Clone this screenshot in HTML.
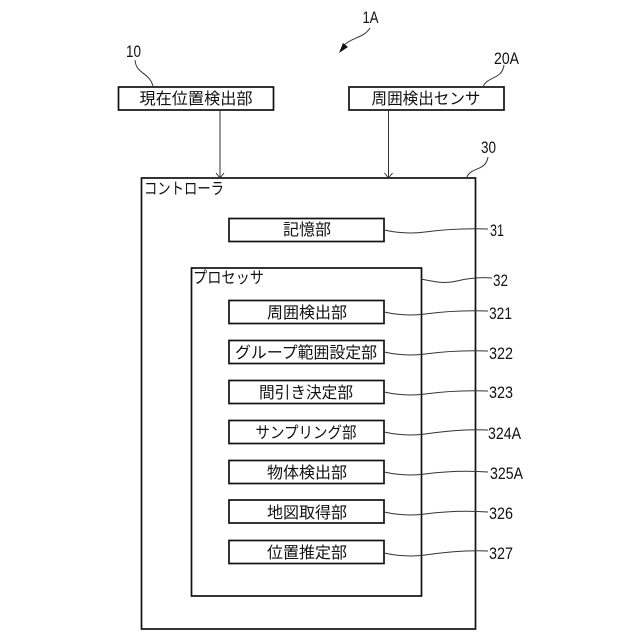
<!DOCTYPE html>
<html><head><meta charset="utf-8"><style>
html,body{margin:0;padding:0;background:#fff}
svg{display:block}
.j{font-family:"Liberation Sans","Noto Sans CJK JP",sans-serif;font-size:16px;fill:#111;text-anchor:middle}
.l{font-family:"Liberation Sans","Noto Sans CJK JP",sans-serif;font-size:16px;fill:#111}
.n{font-family:"Liberation Sans",sans-serif;font-size:17px;fill:#111}
.b{fill:#fff;stroke:#111;stroke-width:1.7}
.c{fill:none;stroke:#333;stroke-width:1}
</style></head><body>
<svg width="640" height="640" viewBox="0 0 640 640" xmlns="http://www.w3.org/2000/svg">
<rect width="640" height="640" fill="#fff"/>
<rect class="b" x="141.500" y="178" width="334" height="451"/>
<rect class="b" x="191.500" y="268" width="230" height="328"/>
<rect class="b" x="118.500" y="87" width="155" height="23"/>
<rect class="b" x="349" y="87" width="155" height="23"/>
<rect class="b" x="229" y="218.500" width="155" height="23"/>
<rect class="b" x="229" y="300.500" width="155" height="23"/>
<rect class="b" x="229" y="340.500" width="155" height="23"/>
<rect class="b" x="229" y="380.500" width="155" height="23"/>
<rect class="b" x="229" y="420.500" width="155" height="23"/>
<rect class="b" x="229" y="460.500" width="155" height="23"/>
<rect class="b" x="229" y="500" width="155" height="23"/>
<rect class="b" x="229" y="540.500" width="155" height="23"/>

<path class="c" d="M135 60C136 74 149 72 153 86"/>
<path class="c" d="M483 87C487 76 502 80 504 65"/>
<path class="c" d="M467 177C471 167 486 171 488 157"/>
<path class="c" d="M370 28C364 38 352 37 343 46"/>
<path d="M339 53L348 47L343 43Z" fill="#111"/>
<path class="c" d="M220 110V178M216 173L220 178L224 173"/>
<path class="c" d="M388.500 110V178M384.500 173L388.500 178L392.500 173"/>

<path class="c" d="M384 230C398 233 410 234 425 232S460 228 488 229"/>
<path class="c" d="M421 279C435 282 445 284 457 281S480 277 492 278"/>
<path class="c" d="M384 312C398 315 410 316 425 314S460 310 488 311"/>
<path class="c" d="M384 352C398 355 410 356 425 354S460 350 488 351"/>
<path class="c" d="M384 392C398 395 410 396 425 394S460 390 488 391"/>
<path class="c" d="M384 432C398 435 410 436 425 434S460 429 488 430"/>
<path class="c" d="M384 472C398 475 410 476 425 474S460 470 488 472"/>
<path class="c" d="M384 512C398 515 410 516 425 514S460 510 488 512"/>
<path class="c" d="M384 553C398 556 410 557 425 555S460 550 488 551"/>

<text class="j" x="196" y="104" textLength="113" lengthAdjust="spacingAndGlyphs">現在位置検出部</text>
<text class="j" x="426" y="104" textLength="109" lengthAdjust="spacingAndGlyphs">周囲検出センサ</text>
<text class="j" x="307" y="235" textLength="48" lengthAdjust="spacingAndGlyphs">記憶部</text>
<text class="j" x="307" y="318" textLength="80" lengthAdjust="spacingAndGlyphs">周囲検出部</text>
<text class="j" x="306" y="358" textLength="142" lengthAdjust="spacingAndGlyphs">グループ範囲設定部</text>
<text class="j" x="306" y="398" textLength="94" lengthAdjust="spacingAndGlyphs">間引き決定部</text>
<text class="j" x="306" y="438" textLength="101" lengthAdjust="spacingAndGlyphs">サンプリング部</text>
<text class="j" x="307" y="478" textLength="80" lengthAdjust="spacingAndGlyphs">物体検出部</text>
<text class="j" x="307" y="518" textLength="80" lengthAdjust="spacingAndGlyphs">地図取得部</text>
<text class="j" x="307" y="558" textLength="80" lengthAdjust="spacingAndGlyphs">位置推定部</text>
<text class="l" x="144" y="194" textLength="80" lengthAdjust="spacingAndGlyphs">コントローラ</text>
<text class="l" x="193" y="283" textLength="71" lengthAdjust="spacingAndGlyphs">プロセッサ</text>

<text class="n" x="362.500" y="23" textLength="16" lengthAdjust="spacingAndGlyphs">1A</text>
<text class="n" x="126" y="57" textLength="15" lengthAdjust="spacingAndGlyphs">10</text>
<text class="n" x="494" y="64" textLength="25" lengthAdjust="spacingAndGlyphs">20A</text>
<text class="n" x="481" y="153" textLength="15" lengthAdjust="spacingAndGlyphs">30</text>
<text class="n" x="490" y="236" textLength="14" lengthAdjust="spacingAndGlyphs">31</text>
<text class="n" x="493" y="286" textLength="15" lengthAdjust="spacingAndGlyphs">32</text>
<text class="n" x="489" y="319" textLength="23" lengthAdjust="spacingAndGlyphs">321</text>
<text class="n" x="489" y="359" textLength="24" lengthAdjust="spacingAndGlyphs">322</text>
<text class="n" x="489" y="398" textLength="24" lengthAdjust="spacingAndGlyphs">323</text>
<text class="n" x="488" y="439" textLength="33" lengthAdjust="spacingAndGlyphs">324A</text>
<text class="n" x="490" y="479" textLength="33" lengthAdjust="spacingAndGlyphs">325A</text>
<text class="n" x="489" y="519" textLength="24" lengthAdjust="spacingAndGlyphs">326</text>
<text class="n" x="489" y="559" textLength="24" lengthAdjust="spacingAndGlyphs">327</text>
</svg>
</body></html>
